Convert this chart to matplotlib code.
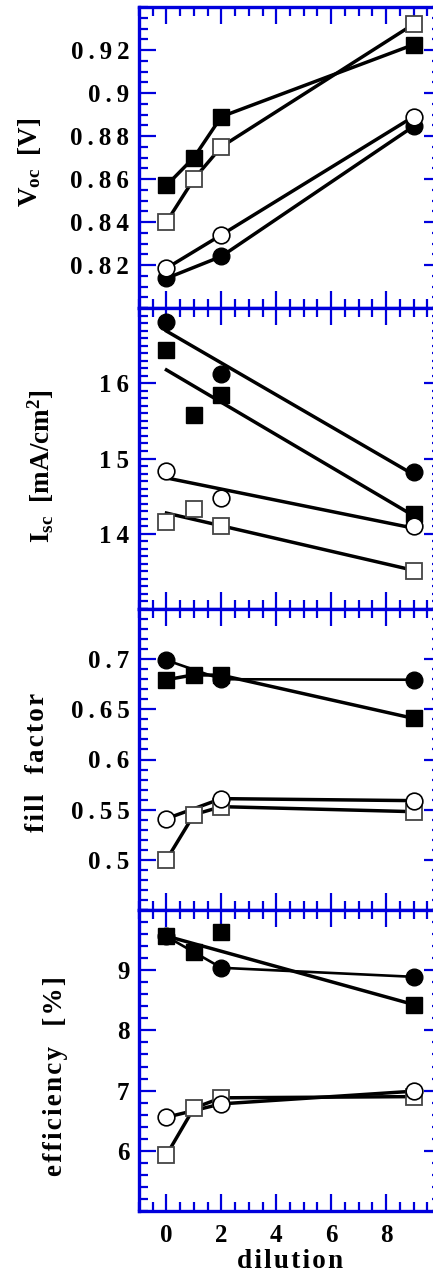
import numpy as np
import matplotlib
matplotlib.use("Agg")
import matplotlib.pyplot as plt
from matplotlib.ticker import MultipleLocator, FuncFormatter

plt.rcParams['font.family'] = ['Liberation Serif', 'DejaVu Serif']
plt.rcParams['font.weight'] = 'bold'
plt.rcParams['mathtext.fontset'] = 'custom'
plt.rcParams['mathtext.rm'] = 'Liberation Serif:bold'
plt.rcParams['mathtext.it'] = 'Liberation Serif:bold'
plt.rcParams['mathtext.bf'] = 'Liberation Serif:bold'
plt.rcParams['mathtext.default'] = 'rm'

# dilution values per sample series
x_fs = [0, 1, 2, 9]   # filled squares
x_os = [0, 1, 2, 9]   # open squares
x_fc = [0, 2, 9]      # filled circles
x_oc = [0, 2, 9]      # open circles

# Voc [V]
voc_fs = [0.857, 0.870, 0.889, 0.9225]
voc_os = [0.840, 0.860, 0.875, 0.932]
voc_fc = [0.8138, 0.824, 0.8845]
voc_oc = [0.8185, 0.834, 0.889]

# Isc [mA/cm2]
isc_fs = [16.44, 15.58, 15.845, 14.26]
isc_os = [14.155, 14.33, 14.10, 13.50]
isc_fc = [16.81, 16.12, 14.82]
isc_oc = [14.83, 14.48, 14.10]

# fill factor
ff_fs = [0.6795, 0.6844, 0.684, 0.641]
ff_os = [0.500, 0.545, 0.553, 0.548]
ff_fc = [0.699, 0.680, 0.6795]
ff_oc = [0.541, 0.561, 0.559]

# efficiency [%]
eff_fs = [9.567, 9.295, 9.628, 8.43]
eff_os = [5.93, 6.71, 6.88, 6.90]
eff_fc = [9.56, 9.04, 8.89]
eff_oc = [6.557, 6.78, 6.99]

ylims = [(0.80, 0.94), (13, 17), (0.45, 0.75), (5, 10)]
yticks = [[0.82, 0.84, 0.86, 0.88, 0.90, 0.92], [14, 15, 16],
          [0.5, 0.55, 0.6, 0.65, 0.7], [6, 7, 8, 9]]
yminor = [0.005, 0.1, 0.01, 0.2]
xticks = [0, 2, 4, 6, 8]

W, H = 433, 1274
fig = plt.figure(figsize=(W / 100, H / 100), dpi=100)

BLUE = '#0000dd'
left_px, right_px = 139, 441
tops = [7, 308, 609, 910]
ph = 301
label_pos = [(30, 162), (41, 466), (37, 762), (56, 1076)]

def spaced(s, sep='\u200a'):
    return sep.join(s)

ylabels = [r'V$_{oc}$  [V]', r'I$_{sc}$  [mA/cm$^{2}$]',
           spaced('fill  factor'), spaced('efficiency  [%]')]

fmt = FuncFormatter(lambda v, p: spaced('%g' % v, '\u2009'))

axes = []
for i in range(4):
    ax = fig.add_axes([left_px / W, 1 - (tops[i] + ph) / H,
                       (right_px - left_px) / W, ph / H])
    axes.append(ax)
    ax.set_xlim(-1, 10)
    ax.set_ylim(*ylims[i])
    ax.set_yticks(yticks[i])
    ax.yaxis.set_minor_locator(MultipleLocator(yminor[i]))
    ax.set_xticks(xticks)
    ax.xaxis.set_minor_locator(MultipleLocator(0.5))
    ax.yaxis.set_major_formatter(fmt)
    ax.xaxis.set_major_formatter(fmt)
    ax.tick_params(which='both', direction='in', top=True, right=True,
                   color=BLUE, width=1.6, labelsize=18)
    ax.tick_params(which='major', length=12)
    ax.tick_params(which='minor', length=6.5)
    ax.tick_params(axis='y', pad=7)
    ax.tick_params(axis='x', pad=9)
    for sp in ax.spines.values():
        sp.set_color(BLUE)
        sp.set_linewidth(2.4)
    if i < 3:
        ax.tick_params(axis='x', labelbottom=False)
    fig.text(label_pos[i][0] / W, 1 - label_pos[i][1] / H, ylabels[i],
             rotation=90, ha='center', va='center', fontsize=19.5, fontweight='bold')

axes[3].set_xlabel(spaced('dilution'), fontsize=19.5, fontweight='bold', labelpad=2)

LW = 2.5

def markers(ax, x, y, kind):
    if kind == 'fs':
        ax.plot(x, y, 's', ms=12, mfc='black', mec='black', zorder=4)
    elif kind == 'os':
        ax.plot(x, y, 's', ms=12, mfc='white', mec='#444444', mew=1.3, zorder=4)
    elif kind == 'fc':
        ax.plot(x, y, 'o', ms=12, mfc='black', mec='black', zorder=4)
    else:
        ax.plot(x, y, 'o', ms=12, mfc='white', mec='black', mew=1.2, zorder=4)

# panel 1: Voc, connected points
ax = axes[0]
for x, y, k in [(x_fs, voc_fs, 'fs'), (x_os, voc_os, 'os'),
                (x_fc, voc_fc, 'fc'), (x_oc, voc_oc, 'oc')]:
    ax.plot(x, y, '-', color='black', lw=LW, zorder=2)
    markers(ax, x, y, k)

# panel 2: Isc, linear fits
ax = axes[1]
xx = np.array([0, 9])
for x, y, k in [(x_fs, isc_fs, 'fs'), (x_os, isc_os, 'os'),
                (x_fc, isc_fc, 'fc'), (x_oc, isc_oc, 'oc')]:
    p = np.polyfit(x, y, 1)
    ax.plot(xx, np.polyval(p, xx), '-', color='black', lw=LW, zorder=2)
    markers(ax, x, y, k)

# panel 3: fill factor
ax = axes[2]
ax.plot(x_fs, ff_fs, '-', color='black', lw=LW, zorder=2)
ax.plot(x_fc, ff_fc, '-', color='black', lw=1.9, zorder=2)
ax.plot(x_os, ff_os, '-', color='black', lw=LW, zorder=2)
ax.plot(x_oc, ff_oc, '-', color='black', lw=LW, zorder=2)
for x, y, k in [(x_fc, ff_fc, 'fc'), (x_fs, ff_fs, 'fs'),
                (x_os, ff_os, 'os'), (x_oc, ff_oc, 'oc')]:
    markers(ax, x, y, k)

# panel 4: efficiency
ax = axes[3]
ax.plot([x_fs[0], x_fs[-1]], [eff_fs[0], eff_fs[-1]], '-', color='black', lw=LW, zorder=2)
ax.plot(x_fc, eff_fc, '-', color='black', lw=1.9, zorder=2)
ax.plot(x_os, eff_os, '-', color='black', lw=LW, zorder=2)
ax.plot(x_oc, eff_oc, '-', color='black', lw=LW, zorder=2)
for x, y, k in [(x_fc, eff_fc, 'fc'), (x_fs, eff_fs, 'fs'),
                (x_os, eff_os, 'os'), (x_oc, eff_oc, 'oc')]:
    markers(ax, x, y, k)

fig.savefig('out.png', dpi=100)
